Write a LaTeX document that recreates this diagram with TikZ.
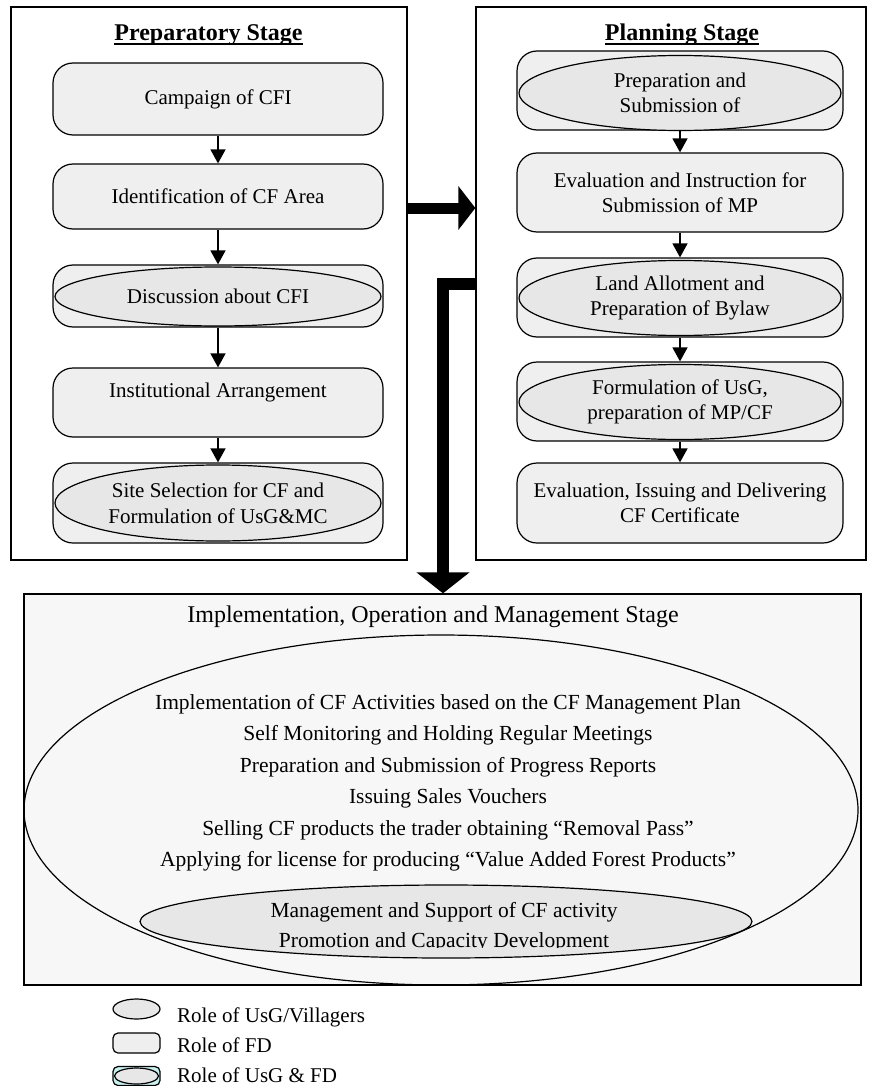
\documentclass[tikz,border=0pt]{standalone}
\usepackage{fontspec}
\setmainfont{Liberation Serif}
\usetikzlibrary{arrows.meta,shapes.geometric}

\definecolor{boxgray}{RGB}{239,239,239}
\definecolor{ellgray}{RGB}{231,231,231}
\definecolor{panelgray}{RGB}{247,247,247}
\definecolor{legcyan}{RGB}{200,240,240}
\newcommand\diagfont{\fontsize{21}{25.5}\selectfont}
\newcommand\rowfont{\fontsize{21.5}{25.5}\selectfont}
\newcommand\headfont{\fontsize{24}{28}\selectfont}

\tikzset{
  stagebox/.style={draw, line width=1.3pt, inner sep=0pt},
  fdbox/.style={draw, line width=1.2pt, rounded corners=20pt, fill=boxgray,
    minimum width=#1, align=center, font=\diagfont, inner sep=0pt},
  fdbox/.default=330pt,
  usgell/.style={draw, line width=1.2pt, ellipse, fill=ellgray,
    align=center, font=\diagfont, inner sep=0pt},
  flow/.style={line width=1.5pt, -{Triangle[length=14pt,width=15pt]}},
  stageflow/.style={line width=11pt, -{Triangle[length=17pt,width=43pt]}},
  stagedrop/.style={line width=12pt, line join=miter, -{Triangle[length=21pt,width=52pt]}},
  rowtext/.style={anchor=base, font=\rowfont, inner sep=0pt},
  legtext/.style={anchor=base west, font=\diagfont, inner sep=0pt},
}

\begin{document}
\begin{tikzpicture}[x=1pt, y=-1pt]
\useasboundingbox (0,0) rectangle (874,1086);

% ---------- stage frames ----------
\node[stagebox, minimum width=396pt, minimum height=553pt] (prepstage) at (209,283.5) {};
\node[stagebox, minimum width=390pt, minimum height=553pt] (planstage) at (671,283.5) {};
\node[stagebox, fill=panelgray, minimum width=837pt, minimum height=391pt] (implstage) at (442.5,789.5) {};

% ---------- stage titles (underline cuts the descenders) ----------
\begin{scope}
  \clip (0,0) rectangle (874,43);
  \node[anchor=base, font=\bfseries\headfont, inner sep=0pt] (preptitle) at (208.5,41) {Preparatory Stage};
  \node[anchor=base, font=\bfseries\headfont, inner sep=0pt] (plantitle) at (682,41) {Planning Stage};
\end{scope}
\draw[line width=1.4pt] (preptitle.base west) ++(0,3) -- (preptitle.base east |- 0,44);
\draw[line width=1.4pt] (plantitle.base west) ++(0,3) -- (plantitle.base east |- 0,44);

% ---------- preparatory stage ----------
\node[fdbox, minimum height=72pt] (campaign) at (218,99) {Campaign of CFI};
\node[fdbox, minimum height=65pt] (identify) at (218,196.5) {Identification of CF Area};
\node[fdbox, minimum height=62pt] (discuss) at (218,296) {};
\node[usgell, minimum width=326pt, minimum height=59pt] (discuss-role) at (218,296.5) {Discussion about CFI};
\node[fdbox, minimum height=69pt] (instit) at (218,402.5) {Institutional Arrangement\\~};
\node[fdbox, minimum height=80pt] (site) at (218,503) {};
\node[usgell, minimum width=326pt, minimum height=76pt] (site-role) at (218,503) {Site Selection for CF and\\Formulation of UsG\&MC};

\draw[flow] (campaign) -- (identify);
\draw[flow] (identify) -- (discuss);
\draw[flow] (discuss) -- (instit);
\draw[flow] (instit) -- (site);

% ---------- planning stage ----------
\node[fdbox=326pt, minimum height=79pt] (submit) at (680,90.5) {};
\node[usgell, minimum width=322pt, minimum height=75pt] (submit-role) at (680,93) {Preparation and\\Submission of};
\node[fdbox=326pt, minimum height=79pt] (evaluate) at (680,192.5) {Evaluation and Instruction for\\Submission of MP};
\node[fdbox=326pt, minimum height=79pt] (allot) at (680,297.5) {};
\node[usgell, minimum width=322pt, minimum height=75pt] (allot-role) at (680,298) {Land Allotment and\\Preparation of Bylaw};
\node[fdbox=326pt, minimum height=79pt] (formulate) at (680,401.5) {};
\node[usgell, minimum width=322pt, minimum height=75pt] (formulate-role) at (680,402) {Formulation of UsG,\\preparation of MP/CF};
\node[fdbox=326pt, minimum height=80pt] (certify) at (680,503) {Evaluation, Issuing and Delivering\\CF Certificate};

\draw[flow] (submit) -- (evaluate);
\draw[flow] (evaluate) -- (allot);
\draw[flow] (allot) -- (formulate);
\draw[flow] (formulate) -- (certify);

% ---------- stage connectors ----------
\coordinate (linkrow) at (0,208);
\coordinate (bend) at (443,284);
\draw[stageflow] (prepstage.east |- linkrow) -- (planstage.west |- linkrow);
\draw[stagedrop] (planstage.west |- bend) -- (bend) -- (bend |- implstage.north);

% ---------- implementation stage ----------
\node[anchor=base, font=\headfont, inner sep=0pt] (impltitle) at (433,622)
  {Implementation, Operation and Management Stage};
\node[draw, line width=1.2pt, ellipse, minimum width=834pt, minimum height=350pt, inner sep=0pt] (usgfd) at (441,810) {};
\node[draw, line width=1.2pt, ellipse, fill=ellgray, minimum width=612pt, minimum height=73pt, inner sep=0pt] (fdrole) at (446,921.5) {};

\node[rowtext] (act1) at (448,709) {Implementation of CF Activities based on the CF Management Plan};
\node[rowtext] (act2) at (448,740.5) {Self Monitoring and Holding Regular Meetings};
\node[rowtext] (act3) at (448,772) {Preparation and Submission of Progress Reports};
\node[rowtext] (act4) at (448,803.5) {Issuing Sales Vouchers};
\node[rowtext] (act5) at (448,835) {Selling CF products the trader obtaining “Removal Pass”};
\node[rowtext] (act6) at (448,866.5) {Applying for license for producing “Value Added Forest Products”};

\begin{scope}
  \clip (0,880) rectangle (874,947.5);
  \node[rowtext] (fd1) at (444,917) {Management and Support of CF activity};
  \node[rowtext] (fd2) at (444,947) {Promotion and Capacity Development};
\end{scope}

% ---------- legend ----------
\node[draw, line width=1.2pt, ellipse, fill=ellgray, minimum width=47pt, minimum height=20pt, inner sep=0pt] (key-usg) at (136.5,1009) {};
\node[draw, line width=1.2pt, rounded corners=5pt, fill=boxgray, minimum width=47pt, minimum height=20pt, inner sep=0pt] (key-fd) at (136.5,1043) {};
\node[draw, line width=1.2pt, rounded corners=5pt, fill=legcyan, minimum width=47pt, minimum height=19pt, inner sep=0pt] (key-both) at (136.5,1076) {};
\node[draw, line width=1.2pt, ellipse, fill=ellgray, minimum width=44pt, minimum height=16pt, inner sep=0pt] (key-both-e) at (136.5,1076) {};

\node[legtext] (key-usg-t) at (177,1022) {Role of UsG/Villagers};
\node[legtext] (key-fd-t) at (177,1052) {Role of FD};
\node[legtext] (key-both-t) at (177,1082) {Role of UsG \& FD};
\end{tikzpicture}
\end{document}
